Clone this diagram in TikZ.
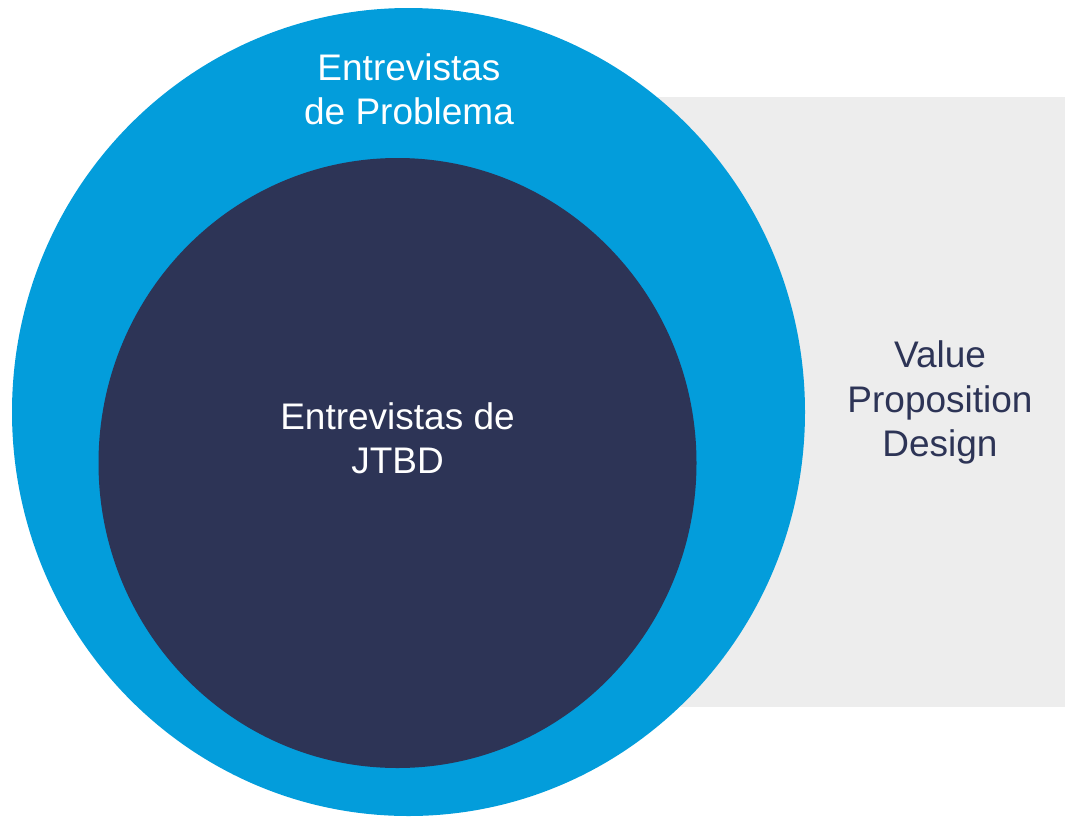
\documentclass[tikz,border=0pt]{standalone}
\usepackage{fontspec}
\setmainfont{Liberation Sans}
\definecolor{blueC}{HTML}{039DDB}
\definecolor{darkC}{HTML}{2D3456}
\definecolor{greyC}{HTML}{EDEDED}
\tikzset{
  lbl/.style={align=center, inner sep=0pt, font=\fontsize{37}{44.5}\selectfont},
}
\begin{document}
\begin{tikzpicture}[x=1pt,y=-1pt]
\useasboundingbox (0,0) rectangle (1065,817);
\fill[greyC] (600,97) rectangle (1065,707);
\fill[blueC] (408.5,412) ellipse [x radius=396.5, y radius=404];
\fill[darkC] (397.5,463) ellipse [x radius=299, y radius=305];
\node[lbl, text=white] (prob) at (409,89.5) {Entrevistas\\de Problema};
\node[lbl, text=white] (jtbd) at (397.5,438.5) {Entrevistas de\\JTBD};
\node[lbl, text=darkC] (vpd) at (940,402.5) {Value\\Proposition\\Design};
\end{tikzpicture}
\end{document}
